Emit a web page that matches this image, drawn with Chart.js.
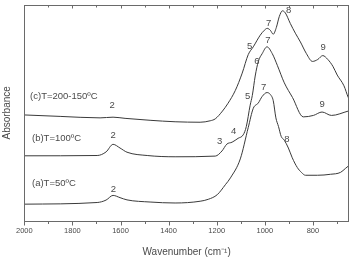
<!DOCTYPE html>
<html>
<head>
<meta charset="utf-8">
<script src="https://cdn.jsdelivr.net/npm/chart.js@4.4.0/dist/chart.umd.min.js"></script>
<style>
  html, body { margin: 0; padding: 0; background: #fff; }
</style>
</head>
<body>
<canvas id="ftirChart" width="350" height="258"></canvas>
<script>
// FTIR spectra at three temperatures (absorbance in arbitrary units, curves offset)
const wavenumberA = [2000, 1697, 1660, 1631, 1602, 1573, 1477, 1373, 1269, 1235, 1198, 1164, 1143, 1102, 1069, 1048, 1027, 1011, 991, 977, 965, 954, 943, 932, 919, 902, 886, 865, 848, 831, 781, 727, 685, 665, 650];
const absorbanceA = [17, 18.7, 21.2, 26, 23.7, 21.4, 19.2, 18.2, 20, 22, 26.7, 37, 44, 63.5, 95.7, 115.5, 121, 127.7, 131.7, 129.7, 123.4, 105.7, 96.7, 86.7, 82.7, 74.7, 64.7, 54.7, 49.7, 46.7, 46.7, 47.7, 49.7, 53.7, 56.7];

const wavenumberB = [2000, 1697, 1660, 1631, 1602, 1573, 1489, 1373, 1206, 1178, 1158, 1136, 1111, 1090, 1077, 1061, 1052, 1040, 1027, 1011, 991, 969, 948, 919, 885, 840, 798, 762, 723, 653, 650];
const absorbanceB = [66.7, 67, 70.7, 78.5, 74.7, 70.4, 67, 65.7, 66.4, 71.7, 78.7, 80.7, 84.7, 88.2, 96.7, 118.7, 128.7, 148.7, 163.7, 171.7, 178.7, 171.7, 159.7, 141.7, 126.7, 106.7, 108.2, 111.7, 108.2, 112.7, 112.9];

const wavenumberC = [2000, 1851, 1685, 1631, 1581, 1477, 1373, 1269, 1227, 1206, 1176, 1153, 1123, 1094, 1069, 1048, 1019, 1002, 990, 977, 965, 952, 940, 927, 915, 894, 873, 852, 827, 802, 780, 759, 738, 717, 699, 671, 653, 650];
const absorbanceC = [108.7, 107.2, 105.7, 106.4, 105.2, 103.2, 101.7, 101.2, 102.7, 104.7, 112.7, 120.7, 133.7, 151.7, 170.7, 178.7, 190.7, 195.7, 197.7, 195.7, 191.7, 198.7, 209.7, 215.7, 213.7, 202.7, 192.7, 183.7, 171.7, 163.7, 165.7, 169.7, 165.7, 158.7, 149.7, 138.7, 126.7, 125.5];

const seriesNames = ['(a)T=50ºC', '(b)T=100ºC', '(c)T=200-150ºC'];
const seriesNameWavenumber = [1968, 1968, 1976];
const seriesNameAbsorbance = [38.7, 84.7, 127.7];

// band numbers written next to the peaks
const peakText = ['2', '7', '8', '2', '3', '4', '5', '6', '7', '9', '2', '5', '7', '8', '9'];
const peakWavenumber = [1630, 1005, 908, 1631, 1188, 1130, 1071, 1033, 987, 762, 1635, 1063, 984, 901, 758];
const peakAbsorbance = [32, 137.4, 83.7, 87.7, 82, 92, 127.4, 163.7, 185, 119.4, 118.7, 179.2, 202.7, 216, 178.4];

const xTickMin = 700;
const xTickMax = 2000;

const lineColor = '#3a3a3a';
const textColor = '#4a4a4a';
const axisColor = '#6a6a6a';
const fontFamily = "'Liberation Sans', Arial, sans-serif";

function toPoints(xs, ys) {
    return xs.map((x, i) => ({ x: x, y: ys[i] }));
}

const frameAndLabels = {
    id: 'frameAndLabels',
    afterDatasetsDraw(chart) {
        const ctx = chart.ctx;
        const area = chart.chartArea;
        const xScale = chart.scales.x;
        const yScale = chart.scales.y;
        const left = Math.round(area.left) + 0.5;
        const right = Math.round(area.right) - 0.5;
        const top = Math.round(area.top) + 0.5;
        const bottom = Math.round(area.bottom) + 0.5;

        ctx.save();
        ctx.strokeStyle = axisColor;
        ctx.lineWidth = 1;
        ctx.strokeRect(left, top, right - left, bottom - top);

        // major and minor ticks, outward on the bottom, inward on the top
        ctx.beginPath();
        for (let wn = xTickMin; wn <= xTickMax; wn += 100) {
            const px = Math.round(xScale.getPixelForValue(wn)) + 0.5;
            const major = wn % 200 === 0;
            ctx.moveTo(px, bottom);
            ctx.lineTo(px, bottom + (major ? 4 : 2.5));
            ctx.moveTo(px, top);
            ctx.lineTo(px, top + (major ? 3 : 2));
        }
        ctx.stroke();

        ctx.fillStyle = textColor;
        ctx.font = '9.5px ' + fontFamily;
        ctx.textBaseline = 'middle';
        ctx.textAlign = 'left';
        seriesNames.forEach(function(name, i) {
            ctx.fillText(name, xScale.getPixelForValue(seriesNameWavenumber[i]), yScale.getPixelForValue(seriesNameAbsorbance[i]));
        });

        ctx.textAlign = 'center';
        peakText.forEach(function(t, i) {
            ctx.fillText(t, xScale.getPixelForValue(peakWavenumber[i]), yScale.getPixelForValue(peakAbsorbance[i]));
        });
        ctx.restore();
    }
};

const datasets = [
    { label: seriesNames[0], data: toPoints(wavenumberA, absorbanceA) },
    { label: seriesNames[1], data: toPoints(wavenumberB, absorbanceB) },
    { label: seriesNames[2], data: toPoints(wavenumberC, absorbanceC) }
].map(function(ds) {
    ds.borderColor = lineColor;
    ds.borderWidth = 1;
    ds.pointRadius = 0;
    ds.fill = false;
    ds.cubicInterpolationMode = 'monotone';
    return ds;
});

new Chart(document.getElementById('ftirChart'), {
    type: 'line',
    data: { datasets: datasets },
    options: {
        responsive: false,
        animation: false,
        layout: { padding: { left: 0, right: 1, top: 5, bottom: 0 } },
        plugins: {
            legend: { display: false },
            tooltip: { enabled: false }
        },
        scales: {
            x: {
                type: 'linear',
                reverse: true,
                min: 650,
                max: 2000,
                grid: { display: false, drawTicks: false },
                border: { display: false },
                ticks: {
                    stepSize: 200,
                    includeBounds: false,
                    autoSkip: false,
                    maxRotation: 0,
                    padding: 6,
                    color: textColor,
                    font: { family: fontFamily, size: 7.5 },
                    callback: function(value) { return String(value); }
                },
                title: {
                    display: true,
                    text: 'Wavenumber (cm⁻¹)',
                    color: textColor,
                    font: { family: fontFamily, size: 10 },
                    padding: { top: 4.3, bottom: 0 }
                }
            },
            y: {
                min: 0,
                max: 221.7,
                grid: { display: false, drawTicks: false },
                border: { display: false },
                ticks: { display: false },
                title: {
                    display: true,
                    text: 'Absorbance',
                    color: textColor,
                    font: { family: fontFamily, size: 10 },
                    padding: { top: 1, bottom: 11.3 }
                }
            }
        }
    },
    plugins: [frameAndLabels]
});
</script>
</body>
</html>
